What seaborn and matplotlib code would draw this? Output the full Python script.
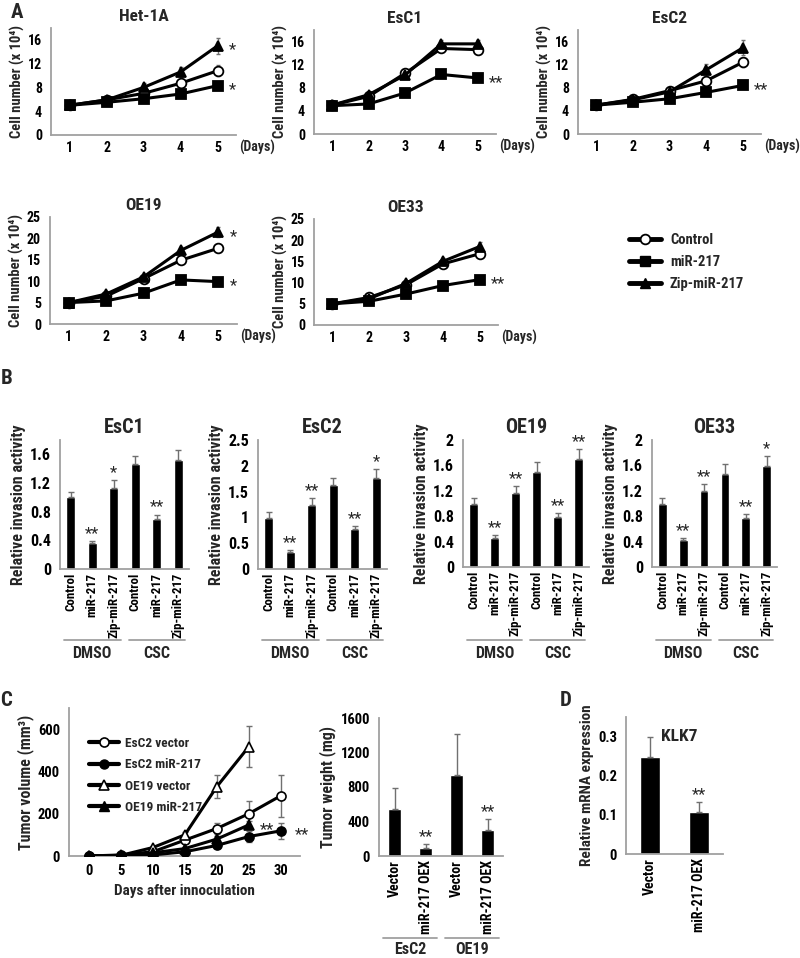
import numpy as np
import matplotlib
matplotlib.use('Agg')
import matplotlib.pyplot as plt
from matplotlib.lines import Line2D
from matplotlib import font_manager
import seaborn as sns

# ---------------- data ----------------
days = [1, 2, 3, 4, 5]

het_ctrl = [5.0, 5.9, 7.0, 8.7, 10.8]
het_ctrl_err = [0.2, 0.3, 0.4, 0.6, 0.9]
het_mir = [5.0, 5.5, 6.1, 6.9, 8.3]
het_mir_err = [0.2, 0.2, 0.3, 0.3, 0.4]
het_zip = [5.0, 5.9, 8.0, 10.6, 15.0]
het_zip_err = [0.2, 0.3, 0.7, 0.9, 1.4]

esc1_ctrl = [5.0, 6.5, 10.5, 14.8, 14.6]
esc1_ctrl_err = [0.2, 0.3, 0.4, 0.6, 0.7]
esc1_mir = [4.9, 5.2, 7.1, 10.3, 9.7]
esc1_mir_err = [0.2, 0.2, 0.3, 0.4, 0.4]
esc1_zip = [5.0, 6.8, 10.2, 15.6, 15.6]
esc1_zip_err = [0.2, 0.3, 0.4, 0.7, 0.7]

esc2_ctrl = [5.0, 6.0, 7.5, 9.2, 12.4]
esc2_ctrl_err = [0.2, 0.3, 0.3, 0.6, 0.8]
esc2_mir = [5.0, 5.5, 6.1, 7.2, 8.4]
esc2_mir_err = [0.2, 0.2, 0.3, 0.3, 0.4]
esc2_zip = [5.0, 5.9, 7.3, 11.1, 14.9]
esc2_zip_err = [0.2, 0.3, 0.4, 1.0, 1.3]

oe19_ctrl = [5.0, 6.5, 10.6, 14.9, 17.7]
oe19_ctrl_err = [0.2, 0.3, 0.5, 0.7, 0.9]
oe19_mir = [5.0, 5.4, 7.2, 10.3, 9.9]
oe19_mir_err = [0.2, 0.2, 0.3, 0.4, 0.4]
oe19_zip = [5.0, 7.0, 11.0, 17.2, 21.5]
oe19_zip_err = [0.2, 0.3, 0.5, 0.9, 1.2]

oe33_ctrl = [5.0, 6.5, 9.5, 14.4, 16.8]
oe33_ctrl_err = [0.2, 0.3, 0.4, 0.6, 0.8]
oe33_mir = [5.0, 5.6, 7.3, 9.3, 10.7]
oe33_mir_err = [0.2, 0.2, 0.3, 0.4, 0.4]
oe33_zip = [5.0, 6.2, 9.8, 15.0, 18.5]
oe33_zip_err = [0.2, 0.3, 0.4, 0.7, 1.0]

growth_legend = ['Control', 'miR-217', 'Zip-miR-217']

inv_labels = ['Control', 'miR-217', 'Zip-miR-217', 'Control', 'miR-217', 'Zip-miR-217']
inv_groups = ['DMSO', 'CSC']
inv_esc1 = [1.00, 0.36, 1.13, 1.46, 0.70, 1.52]
inv_esc1_err = [0.08, 0.03, 0.11, 0.12, 0.06, 0.14]
inv_esc1_stars = ['', '**', '*', '', '**', '']
inv_esc2 = [0.99, 0.33, 1.25, 1.62, 0.77, 1.76]
inv_esc2_err = [0.11, 0.03, 0.12, 0.15, 0.06, 0.17]
inv_esc2_stars = ['', '**', '**', '', '**', '*']
inv_oe19 = [1.00, 0.46, 1.17, 1.50, 0.78, 1.70]
inv_oe19_err = [0.08, 0.04, 0.11, 0.15, 0.07, 0.16]
inv_oe19_stars = ['', '**', '**', '', '**', '**']
inv_oe33 = [1.00, 0.42, 1.19, 1.47, 0.77, 1.59]
inv_oe33_err = [0.08, 0.03, 0.11, 0.15, 0.07, 0.16]
inv_oe33_stars = ['', '**', '**', '', '**', '*']

vol_days = [0, 5, 10, 15, 20, 25, 30]
vol_esc2_vec = [0, 5, 20, 75, 130, 200, 285]
vol_esc2_vec_err = [0, 0, 5, 10, 28, 58, 100]
vol_esc2_mir = [0, 0, 5, 20, 50, 92, 119]
vol_esc2_mir_err = [0, 0, 2, 6, 12, 28, 39]
vol_oe19_days = [0, 5, 10, 15, 20, 25]
vol_oe19_vec = [0, 3, 40, 100, 328, 517]
vol_oe19_vec_err = [0, 0, 8, 15, 55, 98]
vol_oe19_mir = [0, 0, 15, 35, 80, 147]
vol_oe19_mir_err = [0, 0, 4, 8, 15, 20]
vol_legend = ['EsC2 vector', 'EsC2 miR-217', 'OE19 vector', 'OE19 miR-217']

wt_labels = ['Vector', 'miR-217 OEX', 'Vector', 'miR-217 OEX']
wt_groups = ['EsC2', 'OE19']
wt_vals = [540, 97, 936, 299]
wt_err = [252, 47, 478, 128]
wt_stars = ['', '**', '', '**']

klk7_labels = ['Vector', 'miR-217 OEX']
klk7_vals = [0.247, 0.108]
klk7_err = [0.053, 0.025]
klk7_stars = ['', '**']

# ---------------- style ----------------
sns.set_style('white')
pref = ['Liberation Sans Narrow', 'Roboto Condensed', 'Open Sans Condensed',
        'Noto Sans', 'Open Sans', 'DejaVu Sans', 'Roboto']
cond = None
for nm in pref:
    for f in font_manager.fontManager.ttflist:
        fn = f.fname.lower()
        if f.name == nm and ('narrow' in fn or 'condensed' in fn):
            cond = f
            break
    if cond is not None:
        break
if cond is not None:
    plt.rcParams['font.family'] = [cond.name, 'DejaVu Sans']
    plt.rcParams['font.stretch'] = cond.stretch
    K = 1.0
else:
    plt.rcParams['font.family'] = ['Liberation Sans', 'DejaVu Sans']
    K = 0.88
plt.rcParams['font.weight'] = 'bold'
plt.rcParams['axes.labelweight'] = 'bold'
plt.rcParams['axes.titleweight'] = 'bold'

GRAY = '#a0a0a0'
EGRAY = '#707070'
W, H = 800, 958
fig = plt.figure(figsize=(W / 100, H / 100), dpi=100)


def axp(x0, y0, x1, y1):
    return fig.add_axes([x0 / W, 1 - y1 / H, (x1 - x0) / W, (y1 - y0) / H])


def base_style(ax, size):
    sns.despine(ax=ax)
    for s in ('left', 'bottom'):
        ax.spines[s].set_color(GRAY)
        ax.spines[s].set_linewidth(1.3)
    ax.tick_params(axis='both', which='both', colors=GRAY, labelcolor='black',
                   labelsize=size, width=1.1, length=3)


def growth(box, title, series, ymax, yticks, stars):
    ax = axp(*box)
    marks = [dict(marker='o', markersize=7, markerfacecolor='white'),
             dict(marker='s', markersize=7, markerfacecolor='black'),
             dict(marker='^', markersize=7.5, markerfacecolor='black')]
    for (vals, errs), mk in zip(series, marks):
        ax.errorbar(days, vals, yerr=errs, fmt='none', ecolor=EGRAY,
                    elinewidth=1, capsize=1.5, zorder=1)
        sns.lineplot(x=days, y=vals, color='black', linewidth=2.2,
                     markeredgecolor='black', markeredgewidth=1.3,
                     ax=ax, zorder=3, **mk)
    ax.set_xlim(0.5, 5.5)
    ax.set_ylim(0, ymax)
    ax.set_yticks(yticks)
    ax.set_xticks(days)
    ax.set_xticks(np.arange(0.5, 6, 1), minor=True)
    base_style(ax, 10 * K)
    ax.tick_params(axis='x', which='major', length=0, pad=4)
    ax.tick_params(axis='x', which='minor', length=3)
    ax.set_xlabel('')
    ax.set_ylabel('Cell number (x 10\u2074)', fontsize=10.5 * K, labelpad=2)
    ax.set_title(title, fontsize=12.5 * K, pad=5)
    ax.annotate('(Days)', xy=(1, 0), xycoords='axes fraction', xytext=(2, -9),
                textcoords='offset points', ha='left', va='center', fontsize=10 * K)
    for idx, s in stars:
        vals = series[idx][0]
        ax.annotate(s, xy=(5, vals[-1]), xytext=(8, -3), textcoords='offset points',
                    ha='left', va='center', fontsize=12, fontweight='normal')
    return ax


def group_marks(box, nbins, groups, y_line, y_text, size):
    x0, x1 = box[0], box[2]
    bw = (x1 - x0) / nbins
    per = nbins // len(groups)
    for g, name in enumerate(groups):
        a = x0 + g * per * bw + 4
        b = x0 + (g + 1) * per * bw - 4
        fig.add_artist(Line2D([a / W, b / W], [1 - y_line / H] * 2, transform=fig.transFigure,
                              color=GRAY, lw=1.3))
        fig.text((a + b) / 2 / W, 1 - y_text / H, name, ha='center', va='center', fontsize=size)


def bars(box, vals, errs, labels, stars, ymax, yticks, ylabel, ysize, lsize, xsize,
         width=0.42, boundaries=None, title=None):
    ax = axp(*box)
    pos = list(range(len(vals)))
    sns.barplot(x=pos, y=vals, color='black', saturation=1, width=width, ax=ax)
    ax.errorbar(pos, vals, yerr=[np.zeros(len(vals)), errs], fmt='none', ecolor=EGRAY,
                elinewidth=1, capsize=2, zorder=3)
    ax.set_xlim(-0.5, len(vals) - 0.5)
    ax.set_ylim(0, ymax)
    ax.set_yticks(yticks)
    ax.set_yticklabels([f'{t:g}' for t in yticks])
    ax.set_xticks(pos)
    ax.set_xticklabels(labels, rotation=90)
    if boundaries is not None:
        ax.set_xticks(boundaries, minor=True)
    base_style(ax, ysize)
    ax.tick_params(axis='x', which='major', length=0, pad=3, labelsize=xsize)
    ax.tick_params(axis='x', which='minor', length=9)
    ax.set_xlabel('')
    ax.set_ylabel(ylabel, fontsize=lsize, labelpad=3)
    for i, s in enumerate(stars):
        if s:
            ax.annotate(s, xy=(i, vals[i] + errs[i]), xytext=(0, 0), textcoords='offset points',
                        ha='center', va='bottom', fontsize=12, fontweight='normal')
    if title:
        ax.set_title(title, fontsize=14.5 * K, pad=5)
    return ax


# ---------------- panel A ----------------
growth((51, 28, 236, 135), 'Het-1A',
       [(het_ctrl, het_ctrl_err), (het_mir, het_mir_err), (het_zip, het_zip_err)],
       18, [0, 4, 8, 12, 16], [(2, '*'), (1, '*')])
growth((314, 30, 496, 134), 'EsC1',
       [(esc1_ctrl, esc1_ctrl_err), (esc1_mir, esc1_mir_err), (esc1_zip, esc1_zip_err)],
       18, [0, 4, 8, 12, 16], [(1, '**')])
growth((578, 30, 761, 134), 'EsC2',
       [(esc2_ctrl, esc2_ctrl_err), (esc2_mir, esc2_mir_err), (esc2_zip, esc2_zip_err)],
       18, [0, 4, 8, 12, 16], [(1, '**')])
growth((50, 217, 237, 324), 'OE19',
       [(oe19_ctrl, oe19_ctrl_err), (oe19_mir, oe19_mir_err), (oe19_zip, oe19_zip_err)],
       25, [0, 5, 10, 15, 20, 25], [(2, '*'), (1, '*')])
growth((314, 219, 498, 325), 'OE33',
       [(oe33_ctrl, oe33_ctrl_err), (oe33_mir, oe33_mir_err), (oe33_zip, oe33_zip_err)],
       25, [0, 5, 10, 15, 20, 25], [(1, '**')])

leg_handles = [
    Line2D([], [], color='black', lw=3.5, marker='o', markersize=7, markerfacecolor='white',
           markeredgecolor='black', markeredgewidth=1.3),
    Line2D([], [], color='black', lw=3.5, marker='s', markersize=7, markerfacecolor='black',
           markeredgecolor='black'),
    Line2D([], [], color='black', lw=3.5, marker='^', markersize=7.5, markerfacecolor='black',
           markeredgecolor='black'),
]
fig.legend(leg_handles, growth_legend, loc='upper left', bbox_to_anchor=(616 / W, 1 - 220 / H),
           frameon=False, fontsize=10.5 * K, handlelength=2.2, labelspacing=0.55,
           handletextpad=0.6)

# ---------------- panel B ----------------
inv_boxes = [(60, 440, 189, 569), (258, 440, 387, 569), (463, 440, 589, 567), (652, 440, 777, 567)]
inv_sets = [
    ('EsC1', inv_esc1, inv_esc1_err, inv_esc1_stars, 1.8, [0, 0.4, 0.8, 1.2, 1.6]),
    ('EsC2', inv_esc2, inv_esc2_err, inv_esc2_stars, 2.5, [0, 0.5, 1, 1.5, 2, 2.5]),
    ('OE19', inv_oe19, inv_oe19_err, inv_oe19_stars, 2.0, [0, 0.4, 0.8, 1.2, 1.6, 2]),
    ('OE33', inv_oe33, inv_oe33_err, inv_oe33_stars, 2.0, [0, 0.4, 0.8, 1.2, 1.6, 2]),
]
for box, (title, v, e, st, ym, yt) in zip(inv_boxes, inv_sets):
    bars(box, v, e, inv_labels, st, ym, yt, 'Relative invasion activity', 11.5 * K, 11.5 * K,
         9.3 * K, boundaries=[-0.5, 2.5, 5.5], title=title)
    group_marks(box, 6, inv_groups, 640, 653, 11.5 * K)

# ---------------- panel C ----------------
axv = axp(69, 708, 300, 856)
vol_series = [
    (vol_days, vol_esc2_vec, vol_esc2_vec_err, dict(marker='o', markerfacecolor='white')),
    (vol_days, vol_esc2_mir, vol_esc2_mir_err, dict(marker='o', markerfacecolor='black')),
    (vol_oe19_days, vol_oe19_vec, vol_oe19_vec_err, dict(marker='^', markerfacecolor='white')),
    (vol_oe19_days, vol_oe19_mir, vol_oe19_mir_err, dict(marker='^', markerfacecolor='black')),
]
for xs, ys, es, mk in vol_series:
    axv.errorbar(xs, ys, yerr=es, fmt='none', ecolor=EGRAY, elinewidth=1, capsize=2, zorder=1)
    sns.lineplot(x=xs, y=ys, color='black', linewidth=2.2, markersize=6.5,
                 markeredgecolor='black', markeredgewidth=1.2, ax=axv, zorder=3, **mk)
axv.set_xlim(-3.1, 33)
axv.set_ylim(0, 700)
axv.set_yticks([0, 200, 400, 600])
axv.set_xticks(vol_days)
base_style(axv, 10.5 * K)
axv.tick_params(axis='x', length=2, pad=4)
axv.set_xlabel('Days after innoculation', fontsize=11 * K, labelpad=4)
axv.set_ylabel('Tumor volume (mm\u00b3)', fontsize=11.5 * K, labelpad=3)
axv.annotate('**', xy=(25, vol_oe19_mir[-1]), xytext=(8, -3), textcoords='offset points',
             ha='left', va='center', fontsize=12, fontweight='normal')
axv.annotate('**', xy=(30, vol_esc2_mir[-1]), xytext=(10, -3), textcoords='offset points',
             ha='left', va='center', fontsize=12, fontweight='normal')
vol_handles = [
    Line2D([], [], color='black', lw=3, marker='o', markersize=6.5, markerfacecolor='white',
           markeredgecolor='black', markeredgewidth=1.2),
    Line2D([], [], color='black', lw=3, marker='o', markersize=6.5, markerfacecolor='black',
           markeredgecolor='black'),
    Line2D([], [], color='black', lw=3, marker='^', markersize=6.5, markerfacecolor='white',
           markeredgecolor='black', markeredgewidth=1.2),
    Line2D([], [], color='black', lw=3, marker='^', markersize=6.5, markerfacecolor='black',
           markeredgecolor='black'),
]
axv.legend(vol_handles, vol_legend, loc='upper left', bbox_to_anchor=(0.065, 0.84),
           frameon=False, fontsize=9.6 * K, handlelength=2.2, labelspacing=0.62,
           handletextpad=0.5, borderaxespad=0)

wbox = (379, 718, 503, 856)
bars(wbox, wt_vals, wt_err, wt_labels, wt_stars, 1600, [0, 400, 800, 1200, 1600],
     'Tumor weight (mg)', 10.5 * K, 11.5 * K, 10 * K, width=0.42, boundaries=[-0.5, 1.5, 3.5])
group_marks(wbox, 4, wt_groups, 938, 950, 11.5 * K)

# ---------------- panel D ----------------
axd = bars((626, 717, 723, 854), klk7_vals, klk7_err, klk7_labels, klk7_stars, 0.35,
           [0, 0.1, 0.2, 0.3], 'Relative mRNA expression', 10.5 * K, 11 * K, 10 * K, width=0.42)
axd.text(0.6, 0.3, 'KLK7', fontsize=12.5 * K, ha='center', va='center',
         transform=axd.transData)

# panel letters
for letter, (x, y) in {'A': (17, 12), 'B': (7, 378), 'C': (6, 700), 'D': (566, 700)}.items():
    fig.text(x / W, 1 - y / H, letter, fontsize=15, ha='center', va='center')

fig.savefig('out.png', dpi=100)
